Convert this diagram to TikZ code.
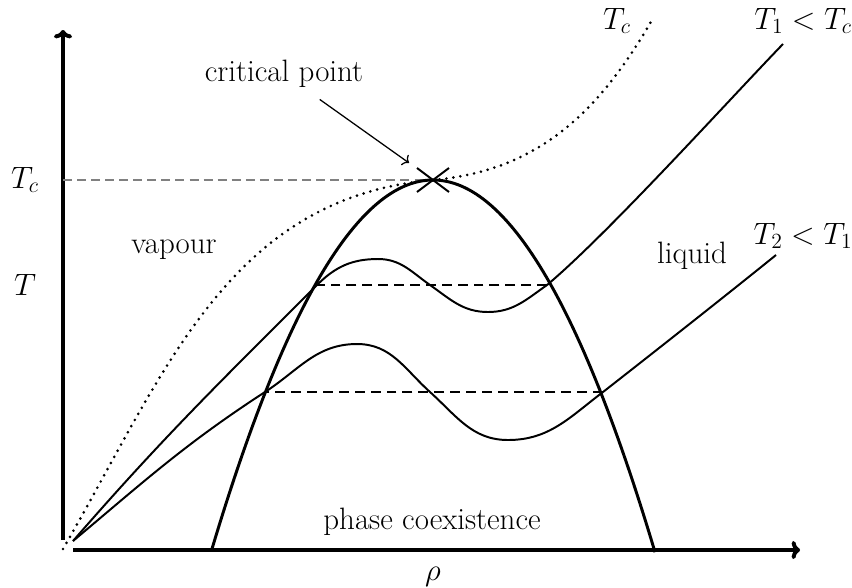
\RequirePackage{fix-cm}
\documentclass[tikz,border=0pt]{standalone}
\usepackage{amsmath}
\usepackage{tikz}
\usetikzlibrary{arrows.meta,positioning,shapes.misc}

\begin{document}
\begin{tikzpicture}[
    x=0.025cm, y=-0.025cm,
    lbl/.style={font=\fontsize{22}{26}\selectfont, inner sep=0pt},
    axis/.style={line width=2.8pt, -{To[length=6pt,width=13pt]}},
    coexline/.style={line width=2.1pt},
    iso/.style={line width=1.4pt},
    tciso/.style={line width=2.1pt, dash pattern=on 0pt off 5pt, line cap=round},
    tie/.style={line width=1.4pt, dash pattern=on 7pt off 4.3pt},
    tcline/.style={gray, line width=1pt, dash pattern=on 6.4pt off 3.6pt},
    pointer/.style={line width=0.9pt, -{To[length=4pt,width=9pt]},
                    shorten <=14pt, shorten >=7pt}
  ]
  \useasboundingbox (0,0) rectangle (852,587);

  % axes
  \coordinate (ybot) at (63,540);
  \coordinate (ytop) at (63,30);
  \coordinate (xbeg) at (73,550);
  \coordinate (xend) at (800,550);
  \draw[axis] (ybot) -- (ytop);
  \draw[axis] (xbeg) -- (xend);
  \node[lbl] (ylab) at (25,285) {$T$};
  \node[lbl] (ytc) at (25,180) {$T_c$};
  \node[lbl] (xlab) at (433,577) {$\rho$};

  % critical point
  \coordinate (tcaxis) at (63,180);
  \node[cross out, draw, line width=1.4pt, minimum width=0.75cm,
        minimum height=0.55cm, inner sep=0pt] (cp) at (433,180) {};
  \draw[tcline] (tcaxis) -- (cp.center);
  \node[lbl] (crit) at (284,74) {critical point};
  \draw[pointer] (crit) -- (cp);

  % coexistence curve
  \draw[coexline] plot[domain=212:655, samples=120]
    (\x, {180+(0.0869*(\x-433))^2});

  % tie lines
  \coordinate (l1) at (317,285);
  \coordinate (r1) at (547,285);
  \coordinate (l2) at (265,392);
  \coordinate (r2) at (603,392);
  \draw[tie] (r1) -- (l1);
  \draw[tie] (r2) -- (l2);

  % isotherms
  \coordinate (o1) at (73,541);
  \coordinate (tcend) at (652,20);
  \coordinate (t1end) at (783,44);
  \coordinate (t2end) at (776,255);
  \draw[tciso] (63,549) to[out=60, in=185] (cp.center)
    to[out=5, in=240] (tcend);
  \draw[iso] (o1) to[out=49, in=225] (l1) to[out=45, in=180] (378,259)
    to[out=0, in=145] (430,285) to[out=-35, in=180] (488,312)
    to[out=0, in=215] (r1) to[out=40, in=226, looseness=0.6] (t1end);
  \draw[iso] (o1) to[out=40, in=213] (l2) to[out=33, in=180] (357,344)
    to[out=0, in=138] (430,392) to[out=-42, in=180] (508,440)
    to[out=0, in=217] (r2) to[out=38, in=219, looseness=0.7] (t2end);

  % labels
  \node[lbl] (tclab) at (617,21) {$T_c$};
  \node[lbl] (t1lab) at (803,21) {$T_1 < T_c$};
  \node[lbl] (t2lab) at (803,236) {$T_2 < T_1$};
  \node[lbl] (vap) at (174,250) {vapour};
  \node[lbl] (liq) at (692,256) {liquid};
  \node[lbl] (coex) at (432,522) {phase coexistence};
\end{tikzpicture}
\end{document}
